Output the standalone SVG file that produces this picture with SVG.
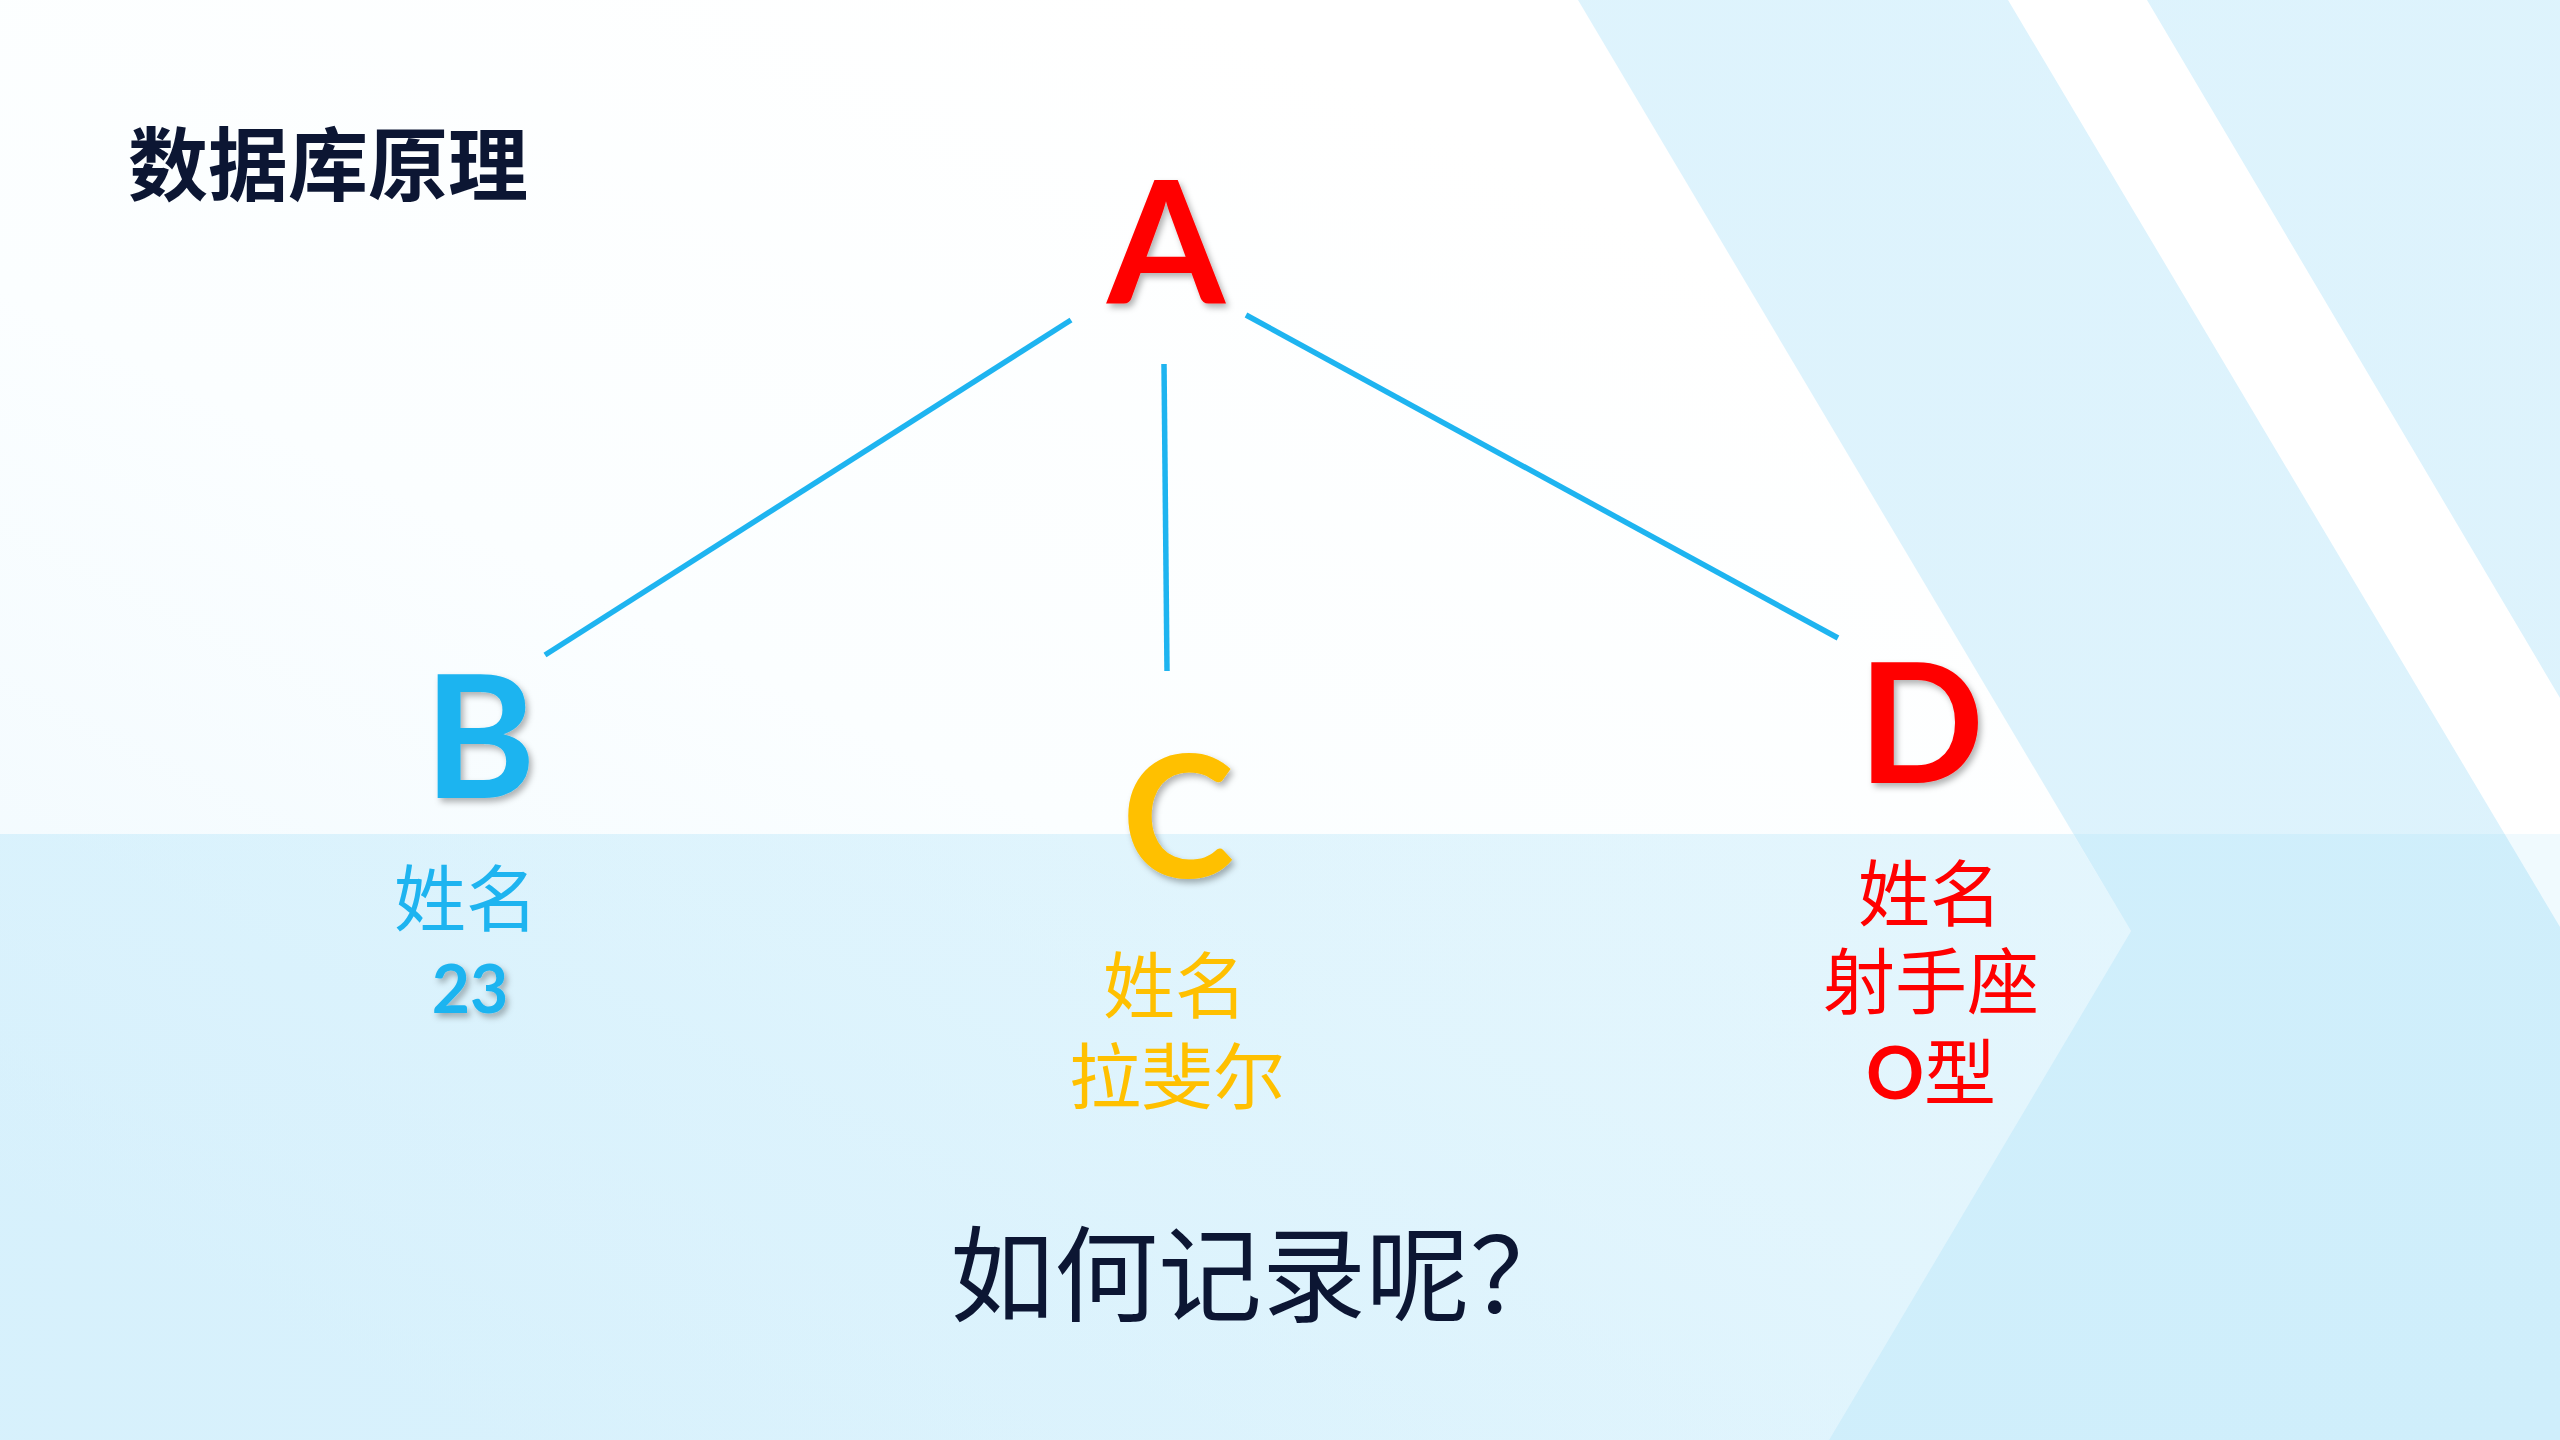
<svg xmlns="http://www.w3.org/2000/svg" width="2560" height="1440" viewBox="0 0 2560 1440">
<defs>
<linearGradient id="bgBlue" x1="0" y1="0" x2="1" y2="1">
<stop offset="0" stop-color="#dff4fd"/>
<stop offset="1" stop-color="#dcf2fc"/>
</linearGradient>
<linearGradient id="whiteFade" x1="0.1" y1="0.9" x2="0.7" y2="0.1">
<stop offset="0" stop-color="#eff9fe"/>
<stop offset="0.5" stop-color="#fbfeff"/>
<stop offset="1" stop-color="#ffffff"/>
</linearGradient>
<linearGradient id="lowFade" x1="0" y1="0" x2="1" y2="0">
<stop offset="0" stop-color="#c4eafa"/>
<stop offset="1" stop-color="#d0eefb"/>
</linearGradient>
<filter id="shadow" x="-20%" y="-20%" width="140%" height="140%">
<feDropShadow dx="3" dy="4" stdDeviation="3" flood-color="#000000" flood-opacity="0.3"/>
</filter>
<style>
.letter{font-family:Lato,"Open Sans","Liberation Sans",sans-serif;font-weight:700;text-anchor:middle}
.cjk{font-family:"Noto Sans CJK SC",sans-serif;font-weight:400;font-size:72px;text-anchor:middle}
.blue{fill:#1eb4f0}
.gold{fill:#ffc000}
.red{fill:#ff0000}
.edge{stroke:#1eb4f0;stroke-width:5.5;fill:none}
</style>
</defs>
<g id="background">
<rect x="0" y="0" width="2560" height="1440" fill="url(#bgBlue)"/>
<polygon points="0,0 1578,0 2131,931 1829,1440 0,1440" fill="url(#whiteFade)"/>
<polygon points="2008,0 2147,0 2560,698 2560,927" fill="#ffffff"/>
<rect x="0" y="834" width="2560" height="606" fill="#3cbef0" opacity="0.08"/>
<polygon points="0,834 2073,834 2131,931 1829,1440 0,1440" fill="url(#lowFade)" opacity="0.35"/>
</g>
<g id="title">
<text x="128" y="194" font-family="'Noto Sans CJK SC',sans-serif" font-weight="700" font-size="80" fill="#0c1633">数据库原理</text>
</g>
<g id="connectors">
<line class="edge" x1="1071" y1="320" x2="545" y2="655"/>
<line class="edge" x1="1164" y1="364" x2="1167" y2="671"/>
<line class="edge" x1="1246" y1="315" x2="1838" y2="638"/>
</g>
<g id="node-A">
<text class="letter red" x="1166" y="303" font-size="170" filter="url(#shadow)">A</text>
</g>
<g id="node-B">
<text class="letter blue" x="480" y="798" font-size="170" filter="url(#shadow)">B</text>
<text class="cjk blue" x="466" y="925">姓名</text>
<text class="letter blue" x="470" y="1013" font-size="66" filter="url(#shadow)">23</text>
</g>
<g id="node-C">
<text class="letter gold" x="1178" y="878" font-size="170" filter="url(#shadow)">C</text>
<text class="cjk gold" x="1175" y="1012">姓名</text>
<text class="cjk gold" x="1177" y="1103">拉斐尔</text>
</g>
<g id="node-D">
<text class="letter red" x="1921" y="783" font-size="166" filter="url(#shadow)">D</text>
<text class="cjk red" x="1930" y="920">姓名</text>
<text class="cjk red" x="1931" y="1008">射手座</text>
<text class="cjk red" x="1931" y="1099"><tspan font-family="Lato,'Open Sans',sans-serif" font-weight="700">O</tspan>型</text>
</g>
<g id="question">
<text x="950" y="1314" font-family="'Noto Sans CJK SC',sans-serif" font-weight="400" font-size="104" fill="#0c1633">如何记录呢？</text>
</g>
</svg>
